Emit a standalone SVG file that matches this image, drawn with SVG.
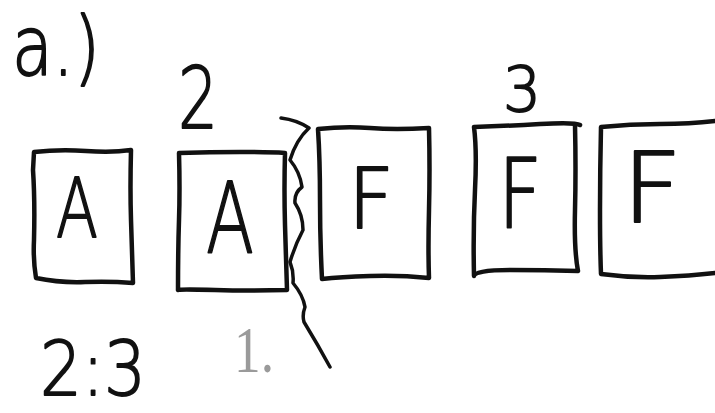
<svg xmlns="http://www.w3.org/2000/svg" width="715" height="413" viewBox="0 0 715 413">
<style>
.box{fill:none;stroke:#111;stroke-width:4.5;stroke-linejoin:round;stroke-linecap:round}
.ln{fill:none;stroke:#111;stroke-width:3.5;stroke-linecap:round;stroke-linejoin:round}
.t,.lbl{font-family:"DejaVu Sans","Liberation Sans",sans-serif;font-weight:200;fill:#111;stroke:#111;stroke-width:1.8;stroke-linejoin:round}
</style>
<rect width="715" height="413" fill="#fff"/>
<g id="title"><text class="lbl" x="12" y="75" font-size="82" textLength="88" lengthAdjust="spacingAndGlyphs">a.)</text></g>
<g id="label-2"><text class="lbl" x="178" y="128" font-size="86" textLength="40" lengthAdjust="spacingAndGlyphs">2</text></g>
<g id="label-3"><text class="lbl" x="503" y="111" font-size="62" textLength="38" lengthAdjust="spacingAndGlyphs">3</text></g>
<g id="ratio"><text class="lbl" x="40" y="395" font-size="74" textLength="106" lengthAdjust="spacingAndGlyphs">2:3</text></g>
<g id="label-1"><text x="234" y="372" font-family="Liberation Serif,serif" font-size="66" fill="#9a9a9a" textLength="40" lengthAdjust="spacingAndGlyphs">1.</text></g>
<g id="box1">
<path class="box" d="M34,152 Q60,149 86,151 T131,150 Q130,190 131,220 T133,283 Q110,281 85,282 T36,278 Q33,260 34,240 Q35,200 33,170 Z"/>
<text class="t" x="56" y="237" font-size="82" textLength="42" lengthAdjust="spacingAndGlyphs">A</text>
</g>
<g id="box2">
<path class="box" d="M179,153 Q210,152 240,152 T285,153 Q284,190 285,225 T287,290 Q250,291 215,290 T178,290 Q178,250 179,220 T179,153 Z"/>
<text class="t" x="206" y="252" font-size="98" textLength="48" lengthAdjust="spacingAndGlyphs">A</text>
</g>
<g id="box3">
<path class="box" d="M318,129 Q345,126 370,128 T429,128 Q430,170 429,210 T429,278 Q400,275 370,276 T322,279 Q320,240 320,200 T318,129 Z"/>
<text class="t" x="348" y="228" font-size="84" textLength="46" lengthAdjust="spacingAndGlyphs">F</text>
</g>
<g id="box4">
<path class="box" d="M474,127 Q505,126 540,124 T580,125 M575,125 Q576,170 575,210 T578,271 Q545,270 510,270 T474,276 Q473,230 475,190 T474,127"/>
<text class="t" x="498" y="228" font-size="96" textLength="44" lengthAdjust="spacingAndGlyphs">F</text>
</g>
<g id="box5">
<path class="box" d="M715,121 Q690,124 660,124 T601,127 Q600,170 600,210 T601,274 Q630,278 660,277 T715,273"/>
<text class="t" x="622" y="222" font-size="98" textLength="60" lengthAdjust="spacingAndGlyphs">F</text>
</g>
<g id="connectors">
<path class="ln" d="M281,118 Q297,120 309,128 Q296,140 290,160 Q300,172 302,187 Q294,193 295,203 Q303,215 303,230 Q295,245 290,262 Q294,272 293,283 Q303,295 305,307 Q302,315 304,322 Q318,345 330,367"/>
</g>
</svg>
